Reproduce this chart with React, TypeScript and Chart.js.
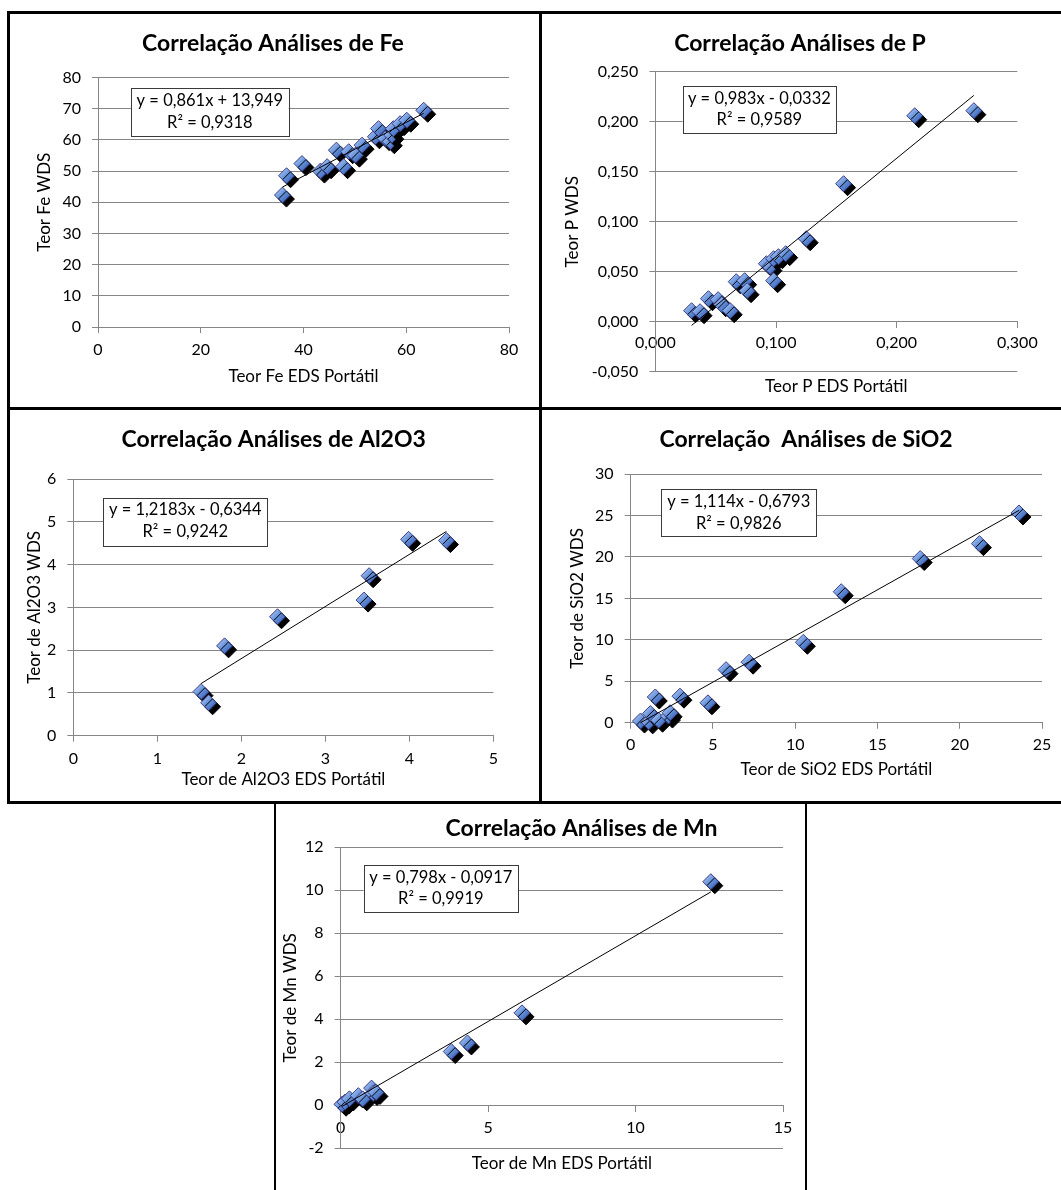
import React, { useEffect, useRef } from 'react';
import { Chart, registerables } from 'chart.js';

Chart.register(...registerables);

const FONT = 'Lato, "Open Sans", Arial, sans-serif';
Chart.defaults.font.family = FONT;
Chart.defaults.color = '#000';

// ---------------- data: Fe ----------------
const feEdsX = [35.9, 36.7, 39.7, 43.3, 44.6, 46.4, 47.8, 48.8, 50.1, 51.4, 54.0, 54.6, 55.9, 56.9, 57.2, 57.5, 58.8, 60.1, 63.4];
const feWdsY = [42.3, 48.5, 52.4, 50.0, 51.4, 56.7, 51.4, 56.2, 55.1, 58.3, 61.0, 63.6, 60.4, 59.4, 61.5, 63.6, 65.2, 66.3, 69.5];
const feTrendX = [35.9, 63.4];
const feTrendY = [44.86, 68.54];
const feXTicks = [0, 20, 40, 60, 80];
const feYTicks = [0, 10, 20, 30, 40, 50, 60, 70, 80];
const feEquation = ['y = 0,861x + 13,949', 'R² = 0,9318'];

// ---------------- data: P ----------------
const pEdsX = [0.030, 0.037, 0.044, 0.052, 0.055, 0.062, 0.067, 0.074, 0.076, 0.092, 0.095, 0.098, 0.098, 0.102, 0.108, 0.125, 0.156, 0.215, 0.264];
const pWdsY = [0.011, 0.010, 0.023, 0.022, 0.017, 0.011, 0.040, 0.041, 0.031, 0.058, 0.055, 0.063, 0.041, 0.065, 0.068, 0.083, 0.138, 0.206, 0.211];
const pTrendX = [0.030, 0.264];
const pTrendY = [-0.0037, 0.2263];
const pXTicks = [0, 0.1, 0.2, 0.3];
const pYTicks = [-0.05, 0, 0.05, 0.1, 0.15, 0.2, 0.25];
const pEquation = ['y = 0,983x - 0,0332', 'R² = 0,9589'];

// ---------------- data: Al2O3 ----------------
const alEdsX = [1.52, 1.61, 1.80, 2.43, 3.46, 3.52, 3.99, 4.44];
const alWdsY = [1.03, 0.77, 2.10, 2.78, 3.17, 3.74, 4.59, 4.56];
const alTrendX = [1.52, 4.44];
const alTrendY = [1.218, 4.775];
const alXTicks = [0, 1, 2, 3, 4, 5];
const alYTicks = [0, 1, 2, 3, 4, 5, 6];
const alEquation = ['y = 1,2183x - 0,6344', 'R² = 0,9242'];

// ---------------- data: SiO2 ----------------
const siEdsX = [0.6, 1.1, 1.2, 1.5, 1.7, 2.3, 2.4, 3.0, 4.7, 5.8, 7.2, 10.5, 12.8, 17.6, 21.2, 23.6];
const siWdsY = [0.2, 0.1, 1.1, 3.1, 0.3, 0.8, 1.2, 3.2, 2.4, 6.4, 7.3, 9.7, 15.8, 19.8, 21.6, 25.3];
const siTrendX = [0.6, 23.6];
const siTrendY = [-0.011, 25.61];
const siXTicks = [0, 5, 10, 15, 20, 25];
const siYTicks = [0, 5, 10, 15, 20, 25, 30];
const siEquation = ['y = 1,114x - 0,6793', 'R² = 0,9826'];

// ---------------- data: Mn ----------------
const mnEdsX = [0.05, 0.15, 0.3, 0.6, 0.75, 1.05, 1.1, 1.2, 3.75, 4.3, 6.15, 12.55];
const mnWdsY = [0.05, 0.15, 0.3, 0.45, 0.3, 0.8, 0.55, 0.6, 2.5, 2.9, 4.3, 10.4];
const mnTrendX = [0.05, 12.55];
const mnTrendY = [-0.052, 9.923];
const mnXTicks = [0, 5, 10, 15];
const mnYTicks = [-2, 0, 2, 4, 6, 8, 10, 12];
const mnEquation = ['y = 0,798x - 0,0917', 'R² = 0,9919'];

type Box = { x: number; y: number; w: number; h: number };
type PanelSpec = {
  key: string;
  title: string;
  xTitle: string;
  yTitle: string;
  xs: number[];
  ys: number[];
  trendX: number[];
  trendY: number[];
  xTicks: number[];
  yTicks: number[];
  decimals: number;
  equation: string[];
  left: number; top: number; w: number; h: number;
  padL: number; yW: number; padT: number; titlePB: number;
  padR: number; rightD: number; xAtZero: boolean; padB: number; xH: number; xTickPad: number;
  eq: Box;
};

const panels: PanelSpec[] = [
  {
    key: 'fe', title: 'Correlação Análises de Fe', xTitle: 'Teor Fe EDS Portátil', yTitle: 'Teor Fe WDS',
    xs: feEdsX, ys: feWdsY, trendX: feTrendX, trendY: feTrendY, xTicks: feXTicks, yTicks: feYTicks, decimals: 0, equation: feEquation,
    left: 8, top: 12, w: 533, h: 396,
    padL: 26.6, yW: 63.4, padT: 17.5, titlePB: 20.4, padR: 29.8, rightD: 2.2, xAtZero: false, padB: 21.1, xH: 59.9, xTickPad: 7.4,
    eq: { x: 123, y: 75.7, w: 157.6, h: 48 },
  },
  {
    key: 'p', title: 'Correlação Análises de P', xTitle: 'Teor P EDS Portátil', yTitle: 'Teor P WDS',
    xs: pEdsX, ys: pWdsY, trendX: pTrendX, trendY: pTrendY, xTicks: pXTicks, yTicks: pYTicks, decimals: 3, equation: pEquation,
    left: 541, top: 12, w: 532, h: 396,
    padL: 21.8, yW: 92.6, padT: 17.5, titlePB: 14.6, padR: 35.8, rightD: 19.9, xAtZero: true, padB: 11.1, xH: 25.2, xTickPad: 5.7,
    eq: { x: 141.7, y: 74, w: 153.3, h: 47.3 },
  },
  {
    key: 'al', title: 'Correlação Análises de Al2O3', xTitle: 'Teor de Al2O3 EDS Portátil', yTitle: 'Teor de Al2O3 WDS',
    xs: alEdsX, ys: alWdsY, trendX: alTrendX, trendY: alTrendY, xTicks: alXTicks, yTicks: alYTicks, decimals: 0, equation: alEquation,
    left: 8, top: 408, w: 533, h: 395,
    padL: 16.2, yW: 49.1, padT: 17.5, titlePB: 25.9, padR: 17.8, rightD: 29.7, xAtZero: false, padB: 12.8, xH: 54.5, xTickPad: 8,
    eq: { x: 95.3, y: 89.7, w: 163.9, h: 47.6 },
  },
  {
    key: 'si', title: 'Correlação  Análises de SiO2', xTitle: 'Teor de SiO2 EDS Portátil', yTitle: 'Teor de SiO2 WDS',
    xs: siEdsX, ys: siWdsY, trendX: siTrendX, trendY: siTrendY, xTicks: siXTicks, yTicks: siYTicks, decimals: 0, equation: siEquation,
    left: 541, top: 408, w: 530, h: 395,
    padL: 26.2, yW: 63.4, padT: 17.5, titlePB: 20.9, padR: 26.2, rightD: 2.8, xAtZero: false, padB: 22.8, xH: 57.5, xTickPad: 6.7,
    eq: { x: 120.4, y: 81.3, w: 154.7, h: 47.4 },
  },
  {
    key: 'mn', title: 'Correlação Análises de Mn', xTitle: 'Teor de Mn EDS Portátil', yTitle: 'Teor de Mn WDS',
    xs: mnEdsX, ys: mnWdsY, trendX: mnTrendX, trendY: mnTrendY, xTicks: mnXTicks, yTicks: mnYTicks, decimals: 0, equation: mnEquation,
    left: 275, top: 803, w: 613, h: 387,
    padL: 5.5, yW: 60.1, padT: 11.5, titlePB: 5.2, padR: 5.3, rightD: 99.6, xAtZero: true, padB: 16.5, xH: 25.2, xTickPad: 7.4,
    eq: { x: 88.7, y: 62, w: 154.2, h: 47.3 },
  },
];

const GRID = '#868686';
const TITLE_SIZE = 23;
const AXIS_TITLE_SIZE = 17;
const TICK_SIZE = 16;
const EQ_SIZE = 16.5;

function fmt(v: number, d: number) {
  const n = Math.abs(v) < 1e-9 ? 0 : v;
  return n.toFixed(d).replace('.', ',');
}

const markerShadow = {
  id: 'markerShadow',
  beforeDatasetDraw(chart: any, args: any) {
    if (args.index !== 0) return;
    const ctx = chart.ctx;
    ctx.save();
    ctx.shadowColor = 'rgba(0,0,0,1)';
    ctx.shadowOffsetX = 4;
    ctx.shadowOffsetY = 4;
    ctx.shadowBlur = 0;
  },
  afterDatasetDraw(chart: any, args: any) {
    if (args.index !== 0) return;
    chart.ctx.restore();
  },
};

const eqBox = {
  id: 'eqBox',
  afterDraw(chart: any, _args: any, opts: any) {
    if (!opts || !opts.lines) return;
    const ctx = chart.ctx;
    const { x, y, w, h, lines } = opts;
    ctx.save();
    ctx.fillStyle = '#ffffff';
    ctx.fillRect(x, y, w, h);
    ctx.strokeStyle = '#3a3a3a';
    ctx.lineWidth = 1;
    ctx.strokeRect(Math.round(x) + 0.5, Math.round(y) + 0.5, Math.round(w), Math.round(h));
    ctx.fillStyle = '#000';
    ctx.font = `${EQ_SIZE}px ${FONT}`;
    ctx.textAlign = 'center';
    ctx.textBaseline = 'middle';
    ctx.fillText(lines[0], x + w / 2, y + h * 0.26);
    ctx.fillText(lines[1], x + w / 2, y + h * 0.72);
    ctx.restore();
  },
};

const markerFill = (c: any) => {
  const base = '#6b96dc';
  if (!c || c.type !== 'data' || !c.parsed) return base;
  const sx = c.chart.scales.x;
  const sy = c.chart.scales.y;
  if (!sx || !sy) return base;
  const px = sx.getPixelForValue(c.parsed.x);
  const py = sy.getPixelForValue(c.parsed.y);
  if (!isFinite(px) || !isFinite(py)) return base;
  const g = c.chart.ctx.createLinearGradient(px - 7, py - 7, px + 6, py + 6);
  g.addColorStop(0, '#bcd2f5');
  g.addColorStop(0.45, '#6f99de');
  g.addColorStop(1, '#3562b6');
  return g;
};

function buildConfig(p: PanelSpec): any {
  const tickFont = { family: FONT, size: TICK_SIZE };
  const axisTitleFont = { family: FONT, size: AXIS_TITLE_SIZE };
  const xMin = p.xTicks[0];
  const xMax = p.xTicks[p.xTicks.length - 1];
  const yMin = p.yTicks[0];
  const yMax = p.yTicks[p.yTicks.length - 1];

  const scales: any = {
    x: {
      type: 'linear',
      min: xMin,
      max: xMax,
      position: p.xAtZero ? { y: 0 } : 'bottom',
      afterBuildTicks: (s: any) => { s.ticks = p.xTicks.map((v) => ({ value: v })); },
      afterFit: (s: any) => { s.height = p.xAtZero ? 0 : p.xH; },
      grid: { drawOnChartArea: false, drawTicks: true, tickLength: 6, color: GRID, lineWidth: 1 },
      border: { display: true, color: GRID, width: 1 },
      ticks: { font: tickFont, color: '#000', padding: p.xTickPad, maxRotation: 0, autoSkip: false, callback: (v: any) => fmt(Number(v), p.decimals) },
      title: { display: !p.xAtZero, text: p.xTitle, font: axisTitleFont, color: '#000', padding: 0 },
    },
    y: {
      type: 'linear',
      min: yMin,
      max: yMax,
      position: 'left',
      afterBuildTicks: (s: any) => { s.ticks = p.yTicks.map((v) => ({ value: v })); },
      afterFit: (s: any) => { s.width = p.yW; },
      grid: { drawOnChartArea: true, drawTicks: true, tickLength: 6, color: GRID, lineWidth: 1 },
      border: { display: true, color: GRID, width: 1 },
      ticks: { font: tickFont, color: '#000', padding: 11, autoSkip: false, callback: (v: any) => fmt(Number(v), p.decimals) },
      title: { display: true, text: p.yTitle, font: axisTitleFont, color: '#000', padding: 0 },
    },
  };
  if (p.xAtZero) {
    scales.x2 = {
      type: 'linear',
      axis: 'x',
      position: 'bottom',
      min: xMin,
      max: xMax,
      afterFit: (s: any) => { s.height = p.xH; },
      grid: { display: false, drawTicks: false },
      border: { display: false },
      ticks: { display: false },
      title: { display: true, text: p.xTitle, font: axisTitleFont, color: '#000', padding: 0 },
    };
  }
  if (p.rightD > 0) {
    scales.r = {
      type: 'linear',
      axis: 'y',
      position: 'right',
      afterFit: (s: any) => { s.width = p.rightD; },
      grid: { display: false, drawTicks: false },
      border: { display: false },
      ticks: { display: false },
      title: { display: false },
    };
  }

  return {
    type: 'scatter',
    data: {
      datasets: [
        {
          type: 'scatter',
          label: p.yTitle,
          data: p.xs.map((x, i) => ({ x, y: p.ys[i] })),
          xAxisID: 'x',
          yAxisID: 'y',
          pointStyle: 'rectRot',
          pointRadius: 8,
          pointHoverRadius: 8,
          backgroundColor: markerFill,
          borderColor: '#3a3d88',
          borderWidth: 1,
          clip: false,
          order: 1,
        },
        {
          type: 'line',
          label: 'Linear',
          data: p.trendX.map((x, i) => ({ x, y: p.trendY[i] })),
          xAxisID: 'x',
          yAxisID: 'y',
          borderColor: '#000',
          borderWidth: 1,
          pointRadius: 0,
          pointHoverRadius: 0,
          fill: false,
          tension: 0,
          clip: false,
          order: 0,
        },
      ],
    },
    options: {
      responsive: false,
      maintainAspectRatio: false,
      animation: false,
      events: [],
      layout: {
        autoPadding: false,
        padding: { left: p.padL, top: p.padT, right: p.padR, bottom: p.padB },
      },
      scales,
      plugins: {
        legend: { display: false },
        tooltip: { enabled: false },
        title: {
          display: true,
          text: p.title,
          font: { family: FONT, size: TITLE_SIZE, weight: 'bold' },
          color: '#000',
          padding: { top: 0, bottom: p.titlePB },
        },
        eqBox: { ...p.eq, lines: p.equation },
      },
    },
    plugins: [markerShadow, eqBox],
  };
}

function Panel({ spec }: { spec: PanelSpec }) {
  const ref = useRef<HTMLCanvasElement | null>(null);
  useEffect(() => {
    if (!ref.current) return;
    const chart = new Chart(ref.current, buildConfig(spec));
    return () => chart.destroy();
  }, [spec]);
  return (
    <canvas
      ref={ref}
      width={spec.w}
      height={spec.h}
      style={{ position: 'absolute', left: spec.left, top: spec.top, width: spec.w, height: spec.h }}
    />
  );
}

const frameLines = [
  { l: 7, t: 11, w: 1054, h: 3 },
  { l: 7, t: 11, w: 3, h: 793 },
  { l: 539, t: 11, w: 3, h: 793 },
  { l: 7, t: 407, w: 1054, h: 3 },
  { l: 7, t: 801, w: 1054, h: 3 },
  { l: 274, t: 801, w: 2, h: 389 },
  { l: 805, t: 801, w: 2, h: 389 },
];

export default function App() {
  return (
    <div
      style={{
        position: 'fixed',
        left: 0,
        top: 0,
        width: 1061,
        height: 1190,
        background: '#ffffff',
        overflow: 'hidden',
      }}
    >
      {panels.map((p) => (
        <Panel key={p.key} spec={p} />
      ))}
      {frameLines.map((f, i) => (
        <div
          key={i}
          style={{ position: 'absolute', left: f.l, top: f.t, width: f.w, height: f.h, background: '#000' }}
        />
      ))}
    </div>
  );
}
